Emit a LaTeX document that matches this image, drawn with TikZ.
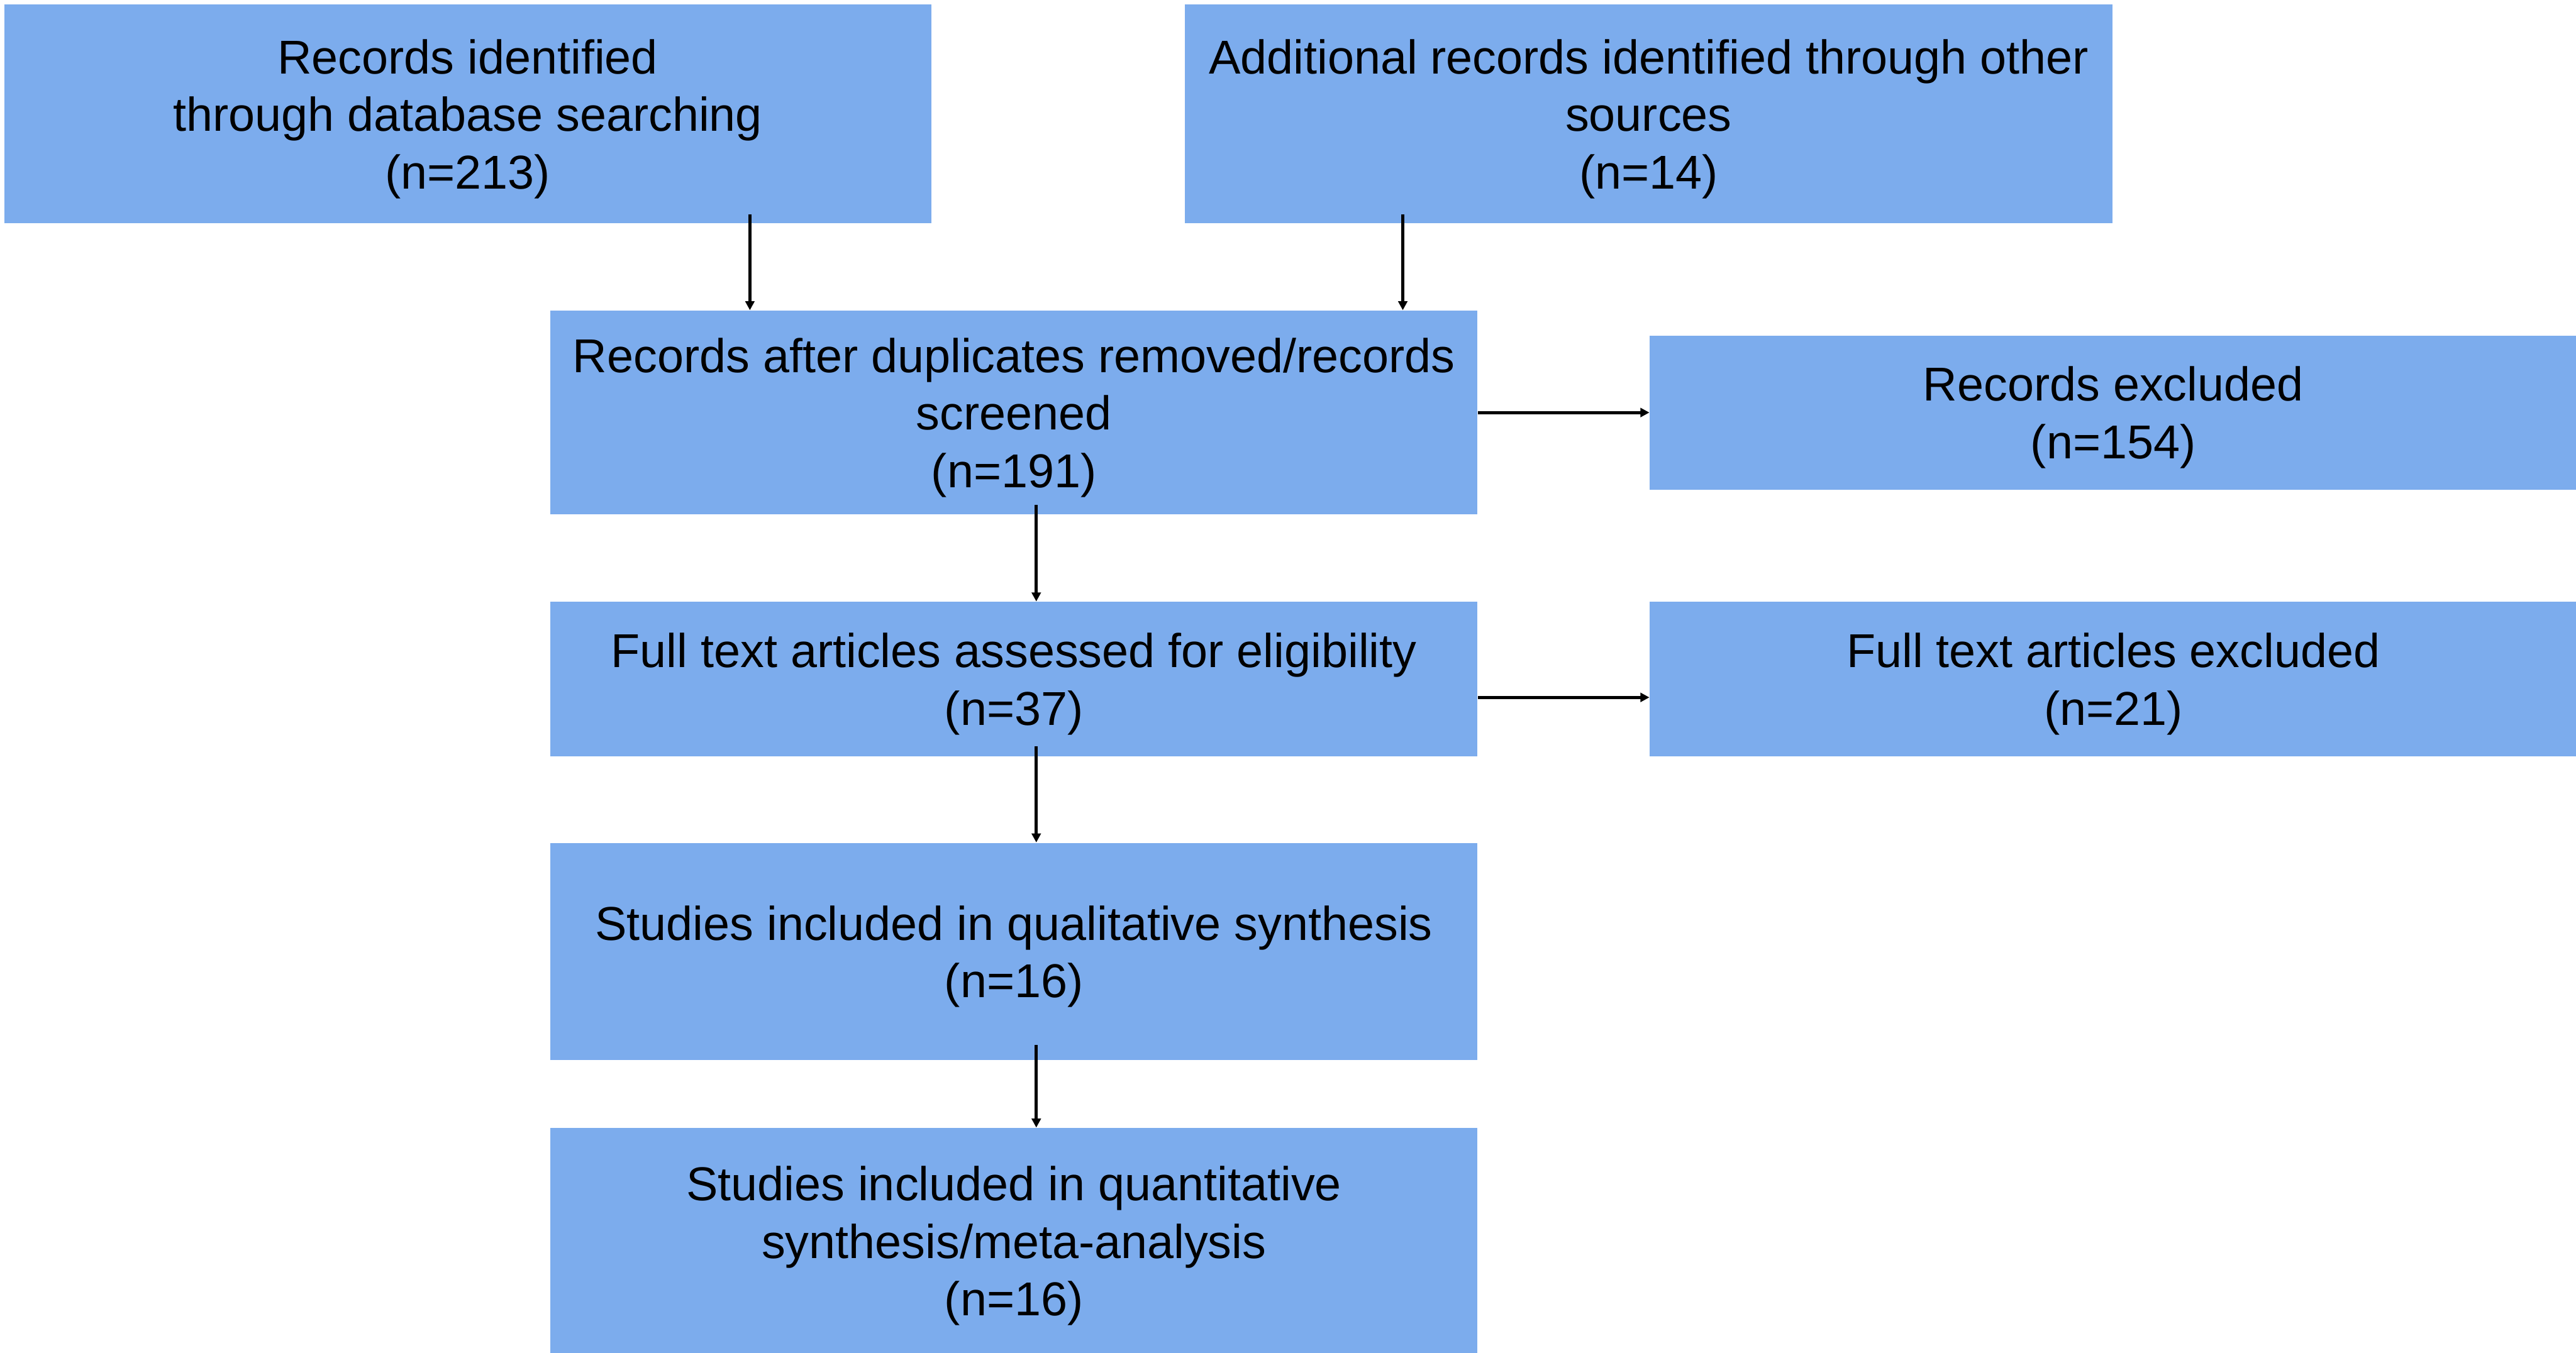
\documentclass[tikz,border=0pt]{standalone}
\usepackage{fontspec}
\setmainfont{Liberation Sans}
\usepackage{tikz}
\usetikzlibrary{arrows.meta,positioning,calc}
\definecolor{boxblue}{RGB}{124,172,237}

\begin{document}
\begin{tikzpicture}[
  font=\fontsize{24.2}{29.3}\selectfont,
  node distance=1.55cm and 3.07cm,
  box/.style={rectangle, fill=boxblue, align=center, inner sep=0pt, text depth=0pt, minimum width=16.59cm},
  arr/.style={-{Triangle[length=4.6pt, width=4.6pt]}, line width=1.7pt}
]
\useasboundingbox (0,0) rectangle (46.1,-24.21);

\node[box, minimum height=3.92cm] (ident) at (8.37,-2.04) {Records identified\\
through database searching\\
(n=213)};
\node[box, minimum height=3.92cm, right=4.53cm of ident] (other) {Additional records identified through other\\
sources\\
(n=14)};

\node[box, minimum height=3.65cm] (screened) at (18.145,-7.385) {Records after duplicates removed/records\\
screened\\
(n=191)};
\node[box, minimum height=2.76cm, right=of screened] (excl) {Records excluded\\
(n=154)};
\node[box, minimum height=2.76cm, below=of screened] (full) {Full text articles assessed for eligibility\\
(n=37)};
\node[box, minimum height=2.76cm, right=of full] (excl2) {Full text articles excluded\\
(n=21)};
\node[box, minimum height=3.89cm, below=1.54cm of full] (qual) {Studies included in qualitative synthesis\\
(n=16)};
\node[box, minimum height=4.05cm, below=1.2cm of qual] (quant) {Studies included in quantitative\\
synthesis/meta-analysis\\
(n=16)};

\draw[arr] ([xshift=5.05cm, yshift=1.7mm]ident.south) -- ([xshift=5.05cm]ident.south |- screened.north);
\draw[arr] ([xshift=-4.4cm, yshift=1.7mm]other.south) -- ([xshift=-4.4cm]other.south |- screened.north);
\draw[arr] (screened) -- (excl);
\draw[arr] ([xshift=4mm, yshift=1.8mm]screened.south) -- ([xshift=4mm]full.north);
\draw[arr] ($(full.east)+(0,-0.33)$) -- ($(excl2.west)+(0,-0.33)$);
\draw[arr] ([xshift=4mm, yshift=1.8mm]full.south) -- ([xshift=4mm]qual.north);
\draw[arr] ([xshift=4mm, yshift=2.8mm]qual.south) -- ([xshift=4mm]quant.north);
\end{tikzpicture}
\end{document}
